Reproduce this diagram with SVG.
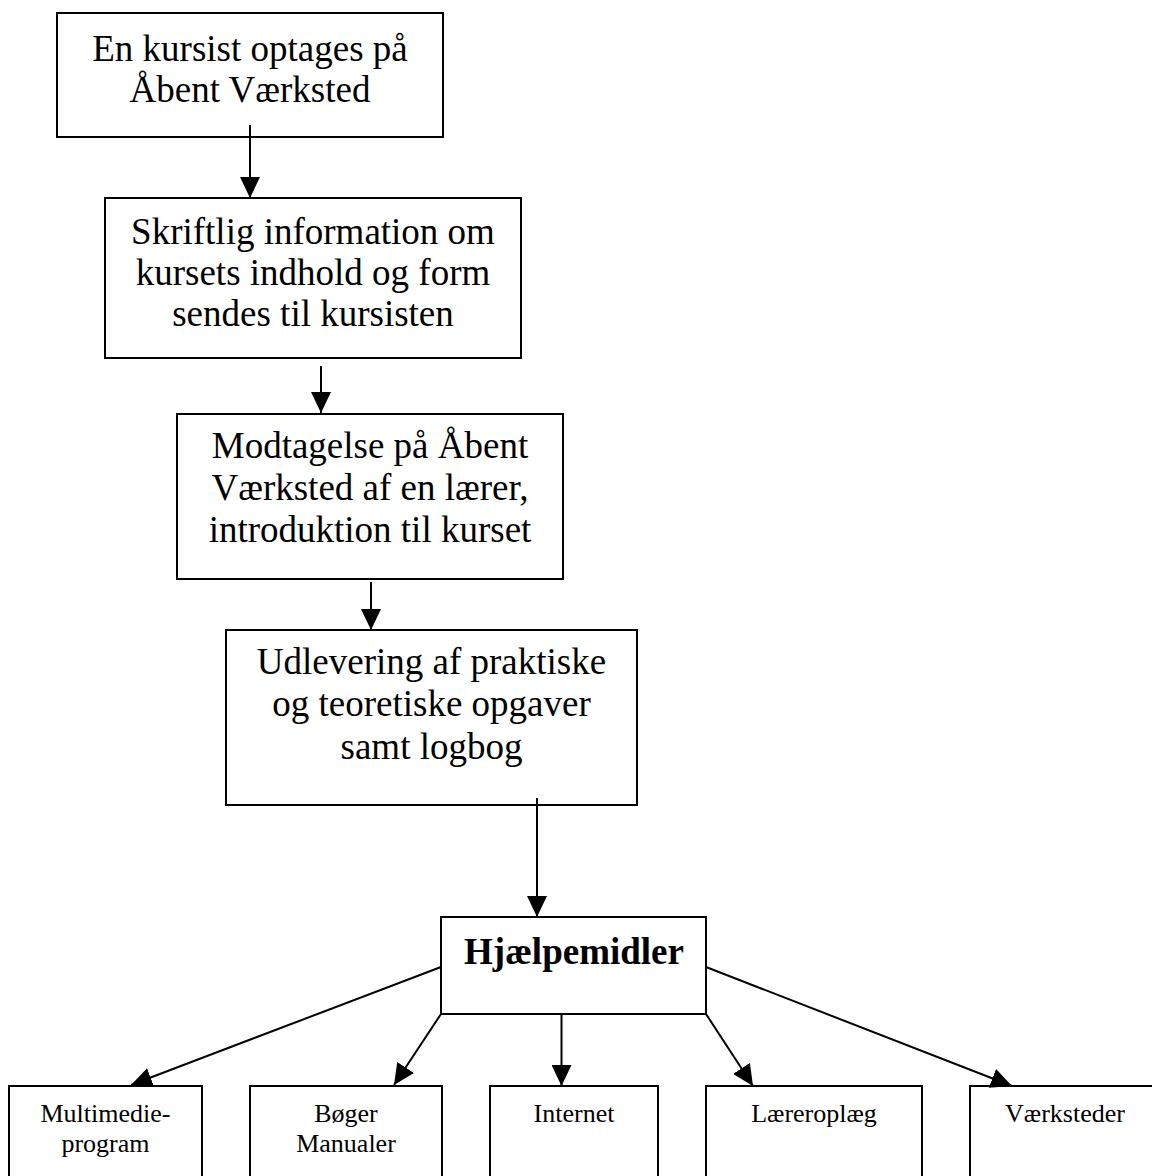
<svg xmlns="http://www.w3.org/2000/svg" width="1152" height="1176" viewBox="0 0 1152 1176">
<style>
.box{fill:#fff;stroke:#000;stroke-width:2}
.t{font-family:"Liberation Serif","Times New Roman",serif;font-size:37px;fill:#000;text-anchor:middle}
.s{font-family:"Liberation Serif","Times New Roman",serif;font-size:26px;fill:#000;text-anchor:middle}
.b{font-weight:bold;font-size:37px}
.c{stroke:#000;stroke-width:2;fill:none;marker-end:url(#ah)}
</style>
<defs>
<marker id="ah" markerUnits="userSpaceOnUse" markerWidth="21" markerHeight="20" refX="21" refY="10" orient="auto">
<path d="M0,0 L21,10 L0,20 Z" fill="#000"/>
</marker>
</defs>
<rect width="1152" height="1176" fill="#fff"/>
<g id="n1"><rect class="box" x="57" y="13" width="386" height="124"/>
<text class="t" x="250" y="61">En kursist optages på</text>
<text class="t" x="250" y="102">Åbent Værksted</text></g>
<g id="n2"><rect class="box" x="105" y="198" width="416" height="160"/>
<text class="t" x="313" y="244">Skriftlig information om</text>
<text class="t" x="313" y="285">kursets indhold og form</text>
<text class="t" x="313" y="326">sendes til kursisten</text></g>
<g id="n3"><rect class="box" x="177" y="414" width="386" height="165"/>
<text class="t" x="370" y="458">Modtagelse på Åbent</text>
<text class="t" x="370" y="500">Værksted af en lærer,</text>
<text class="t" x="370" y="542">introduktion til kurset</text></g>
<g id="n4"><rect class="box" x="226" y="630" width="411" height="175"/>
<text class="t" x="431.5" y="674">Udlevering af praktiske</text>
<text class="t" x="431.5" y="716">og teoretiske opgaver</text>
<text class="t" x="431.5" y="759">samt logbog</text></g>
<g id="n5"><rect class="box" x="441" y="917" width="265" height="97"/>
<text class="t b" x="574" y="964">Hjælpemidler</text></g>
<g id="n6"><rect class="box" x="9" y="1086" width="193" height="110"/>
<text class="s" x="105.5" y="1122">Multimedie-</text>
<text class="s" x="105.5" y="1152">program</text></g>
<g id="n7"><rect class="box" x="250" y="1086" width="192" height="110"/>
<text class="s" x="346" y="1122">Bøger</text>
<text class="s" x="346" y="1152">Manualer</text></g>
<g id="n8"><rect class="box" x="490" y="1086" width="168" height="110"/>
<text class="s" x="574" y="1122">Internet</text></g>
<g id="n9"><rect class="box" x="706" y="1086" width="216" height="110"/>
<text class="s" x="814" y="1122">Læreroplæg</text></g>
<g id="n10"><rect class="box" x="970" y="1086" width="192" height="110"/>
<text class="s" x="1065" y="1122">Værksteder</text></g>
<g id="connectors">
<line class="c" x1="250" y1="125" x2="250" y2="198"/>
<line class="c" x1="321" y1="366" x2="321" y2="413"/>
<line class="c" x1="371" y1="582" x2="371" y2="630"/>
<line class="c" x1="537" y1="798" x2="537" y2="917"/>
<line class="c" x1="441" y1="967" x2="131" y2="1085"/>
<line class="c" x1="441" y1="1014" x2="394" y2="1085"/>
<line class="c" x1="561.5" y1="1014" x2="561.5" y2="1086"/>
<line class="c" x1="706" y1="1014" x2="753" y2="1086"/>
<line class="c" x1="706" y1="967" x2="1012" y2="1086"/>
</g>
</svg>
